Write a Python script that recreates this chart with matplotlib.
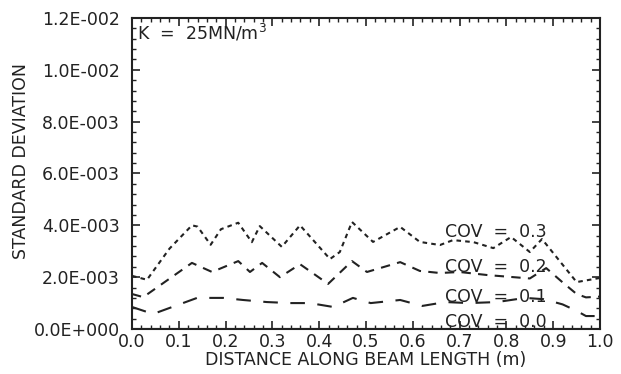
import matplotlib
matplotlib.use("Agg")
import matplotlib.pyplot as plt
from matplotlib.ticker import FuncFormatter, MultipleLocator

# Data (standard deviation x 1e-3)
x_cov3 = [0, 0.032, 0.08, 0.128, 0.14, 0.168, 0.19, 0.227, 0.256, 0.273, 0.32, 0.359,
          0.423, 0.444, 0.47, 0.515, 0.573, 0.615, 0.658, 0.686, 0.73, 0.772, 0.81,
          0.85, 0.876, 0.95, 1.0]
y_cov3 = [2.05, 1.9, 3.1, 4.0, 3.95, 3.25, 3.85, 4.1, 3.35, 3.97, 3.17, 4.0,
          2.7, 2.97, 4.13, 3.36, 3.94, 3.36, 3.24, 3.43, 3.35, 3.12, 3.55,
          2.97, 3.47, 1.81, 1.97]

x_cov2 = [0, 0.024, 0.128, 0.171, 0.227, 0.252, 0.278, 0.316, 0.359, 0.419, 0.47,
          0.502, 0.573, 0.615, 0.658, 0.7, 0.76, 0.85, 0.885, 0.92, 0.95, 0.97, 1.0]
y_cov2 = [1.35, 1.23, 2.55, 2.2, 2.62, 2.2, 2.55, 2.0, 2.5, 1.74, 2.62,
          2.2, 2.58, 2.24, 2.16, 2.2, 2.08, 1.95, 2.35, 1.8, 1.35, 1.22, 1.25]

x_cov1 = [0, 0.045, 0.139, 0.195, 0.237, 0.288, 0.338, 0.38, 0.43, 0.472, 0.51,
          0.573, 0.62, 0.67, 0.72, 0.78, 0.84, 0.88, 0.92, 0.95, 0.97, 1.0]
y_cov1 = [0.85, 0.58, 1.2, 1.2, 1.12, 1.04, 1.0, 1.0, 0.85, 1.2, 1.0,
          1.12, 0.89, 1.04, 1.0, 1.04, 1.2, 1.15, 0.95, 0.7, 0.5, 0.5]

x_cov0 = [0, 1.0]
y_cov0 = [0, 0]

labels = ["COV  =  0.3", "COV  =  0.2", "COV  =  0.1", "COV  =  0.0"]
label_y = [3.74, 2.38, 1.23, 0.27]

ink = "#222222"
fs = 12.5
plt.rcParams["font.family"] = "DejaVu Sans"
plt.rcParams["text.color"] = ink
plt.rcParams["axes.labelcolor"] = ink
plt.rcParams["xtick.color"] = ink
plt.rcParams["ytick.color"] = ink

fig = plt.figure(figsize=(6.21, 3.74), dpi=100)
ax = fig.add_axes([0.2126, 0.1203, 0.7536, 0.8317])

s = 1e-3
ax.plot(x_cov3, [v * s for v in y_cov3], color=ink, lw=1.5, dashes=(2.2, 2.0))
ax.plot(x_cov2, [v * s for v in y_cov2], color=ink, lw=1.5, dashes=(4.5, 3.5))
ax.plot(x_cov1, [v * s for v in y_cov1], color=ink, lw=1.5, dashes=(7, 6))
ax.plot(x_cov0, y_cov0, color=ink, lw=1.5)

for lab, ly in zip(labels, label_y):
    ax.text(0.669, ly * s, lab, fontsize=fs, va="center", ha="left")

ax.text(0.01, 0.01142, "K  =  25MN/m$^3$", fontsize=fs, va="center", ha="left")

ax.set_xlim(0, 1.0)
ax.set_ylim(0, 0.012)
ax.xaxis.set_major_locator(MultipleLocator(0.1))
ax.xaxis.set_minor_locator(MultipleLocator(0.02))
ax.yaxis.set_major_locator(MultipleLocator(0.002))
ax.yaxis.set_minor_locator(MultipleLocator(0.0004))


def sci3(v, pos):
    m, e = f"{v:.1E}".split("E")
    e = int(e)
    sign = "-" if e < 0 else "+"
    return f"{m}E{sign}{abs(e):03d}"


ax.yaxis.set_major_formatter(FuncFormatter(sci3))
ax.xaxis.set_major_formatter(FuncFormatter(lambda v, p: f"{v:.1f}"))

ax.tick_params(which="both", direction="in", top=True, right=True, labelsize=fs)
ax.tick_params(which="major", length=6, width=1.2)
ax.tick_params(axis="y", which="major", pad=9)
ax.tick_params(axis="x", which="major", pad=3)
ax.tick_params(which="minor", length=3, width=1.0)
for sp in ax.spines.values():
    sp.set_linewidth(1.5)
    sp.set_color(ink)

ax.set_xlabel("DISTANCE ALONG BEAM LENGTH (m)", fontsize=fs, labelpad=0)
ax.set_ylabel("STANDARD DEVIATION", fontsize=fs)
ax.yaxis.set_label_coords(-0.218, 0.54)

fig.savefig("out.png", dpi=100)
